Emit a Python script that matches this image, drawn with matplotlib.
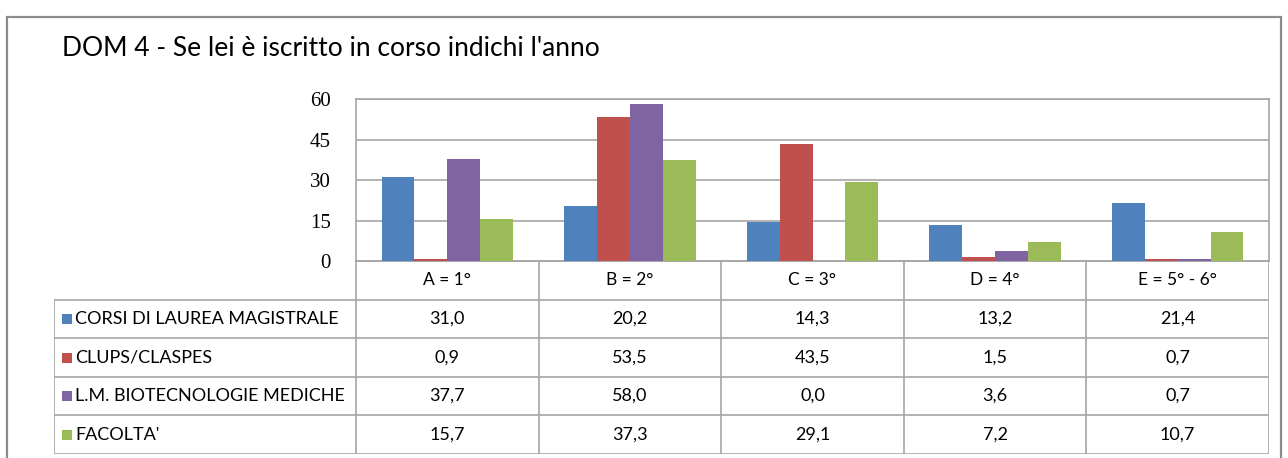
import matplotlib
matplotlib.use("Agg")
import matplotlib.pyplot as plt
from matplotlib.patches import Rectangle
from matplotlib.lines import Line2D
import numpy as np

categories = ["A = 1°", "B = 2°", "C = 3°", "D = 4°", "E = 5° - 6°"]
series_names = ["CORSI DI LAUREA MAGISTRALE", "CLUPS/CLASPES",
                "L.M. BIOTECNOLOGIE MEDICHE", "FACOLTA'"]
corsi = [31.0, 20.2, 14.3, 13.2, 21.4]
clups = [0.9, 53.5, 43.5, 1.5, 0.7]
biotec = [37.7, 58.0, 0.0, 3.6, 0.7]
facolta = [15.7, 37.3, 29.1, 7.2, 10.7]
yticks = [0, 15, 30, 45, 60]
title = "DOM 4 - Se lei è iscritto in corso indichi l'anno"

series = [corsi, clups, biotec, facolta]
colors = ["#4F81BD", "#C0504D", "#8064A2", "#9BBB59"]

W, H = 1288, 458
fig = plt.figure(figsize=(W / 100, H / 100), dpi=100)
fig.patch.set_facecolor("white")
FONT = "Lato"

def px_rect(x0, y0, x1, y1):
    return [x0 / W, 1 - y1 / H, (x1 - x0) / W, (y1 - y0) / H]

# outer border
fig.patches.append(Rectangle((7 / W, -0.1), (1281 - 7) / W, 1 - 17 / H + 0.1,
                             transform=fig.transFigure, fill=False,
                             edgecolor="#8C8C8C", linewidth=1.6))

fig.text(62 / W, 1 - 49 / H, title, fontsize=19, family=FONT,
         va="center", ha="left", color="black")

gray = "#A6A6A6"
x0p, x1p = 356, 1269
ax = fig.add_axes(px_rect(x0p, 99, x1p, 261))
n = len(categories)
x = np.arange(n)
bw = 0.18
for i, (vals, c) in enumerate(zip(series, colors)):
    ax.bar(x + (i - 1.5) * bw, vals, width=bw, color=c, zorder=3)
ax.set_xlim(-0.5, n - 0.5)
ax.set_ylim(0, 60)
ax.set_yticks(yticks)
ax.set_yticklabels([str(v) for v in yticks], family="Liberation Serif", fontsize=15)
ax.set_xticks([])
ax.tick_params(axis="y", length=0, pad=18)
ax.grid(axis="y", color=gray, linewidth=1.2, zorder=0)
for s in ax.spines.values():
    s.set_color(gray)
    s.set_linewidth(1.2)

# table
tx0, ty0, ty1 = 54, 261, 454
left_units = (x0p - tx0) / ((x1p - x0p) / n)
tab = fig.add_axes(px_rect(tx0, ty0, x1p, ty1))
tab.set_xlim(-0.5 - left_units, n - 0.5)
nrows = len(series) + 1
tab.set_ylim(nrows, 0)
tab.axis("off")
lw = 1.2
for j in range(n + 1):
    tab.add_line(Line2D([j - 0.5, j - 0.5], [0, nrows], color=gray, lw=lw))
tab.add_line(Line2D([-0.5 - left_units] * 2, [1, nrows], color=gray, lw=lw))
tab.add_line(Line2D([-0.5, n - 0.5], [0, 0], color=gray, lw=lw))
for r in range(1, nrows + 1):
    tab.add_line(Line2D([-0.5 - left_units, n - 0.5], [r, r], color=gray, lw=lw))
for j, cat in enumerate(categories):
    tab.text(j, 0.5, cat, ha="center", va="center", fontsize=12.5, family=FONT)
unit_px = (x1p - x0p) / n
sq_w = 10 / unit_px
sq_h = 10 / ((ty1 - ty0) / nrows)
for r, (name, vals, c) in enumerate(zip(series_names, series, colors)):
    yy = r + 1.5
    xl = -0.5 - left_units
    tab.add_patch(Rectangle((xl + 8 / unit_px, yy - sq_h / 2), sq_w, sq_h,
                            facecolor=c, edgecolor="none"))
    tab.text(xl + 21 / unit_px, yy, name, ha="left", va="center",
             fontsize=13, family=FONT)
    for j, v in enumerate(vals):
        tab.text(j, yy, f"{v:.1f}".replace(".", ","), ha="center", va="center",
                 fontsize=13, family=FONT)

fig.savefig("out.png", dpi=100, facecolor="white")
